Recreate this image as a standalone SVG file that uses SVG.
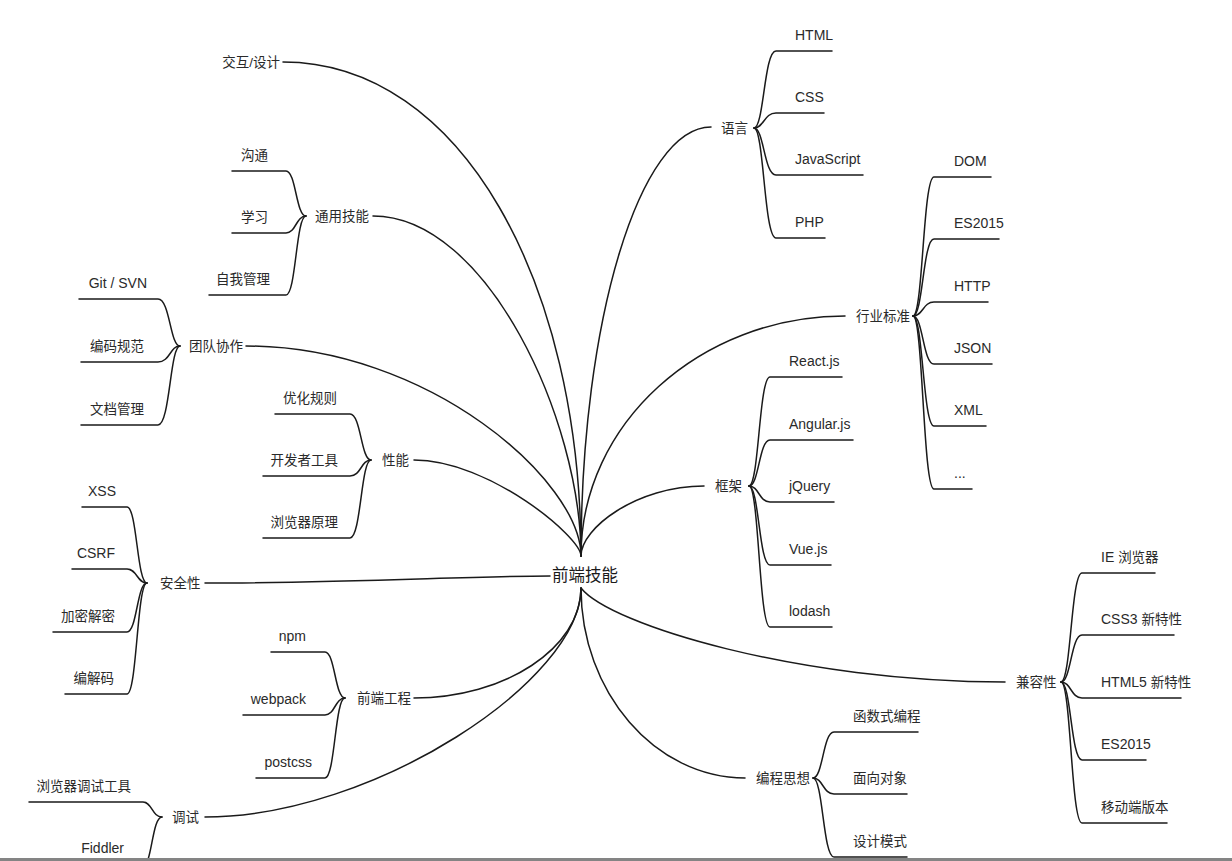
<svg xmlns="http://www.w3.org/2000/svg" width="1232" height="861" viewBox="0 0 1232 861">
<style>
.c{fill:none;stroke:#1a1a1a;stroke-width:1.5;stroke-linecap:round}
text{font-family:"Liberation Sans","Noto Sans CJK SC",sans-serif;font-size:13.5px;fill:#2a2a2a}
.en,.en tspan{font-size:14px}
.l{text-anchor:end}
.hub{font-size:16.5px;fill:#1a1a1a;text-anchor:middle}
</style>
<rect width="1232" height="861" fill="#ffffff"/>
<g id="connectors">
<path class="c" d="M283 62 C462 62 581 284 581 556"/>
<path class="c" d="M373 216 C487 216 581 420 581 556"/>
<path class="c" d="M246 346 C430 346 581 482 581 556"/>
<path class="c" d="M414 460 C489 460 581 537 581 556"/>
<path class="c" d="M205 583 C350 583 470 576 550 576"/>
<path class="c" d="M581 556 C581 320 640 127 711 127"/>
<path class="c" d="M581 556 C581 424 700 316 845 316"/>
<path class="c" d="M581 556 C581 528 637 486 704 486"/>
<path class="c" d="M581 588 C610 625 800 682 1005 682"/>
<path class="c" d="M581 588 C581 692 655 778 745 778"/>
<path class="c" d="M414 698 C505 698 581 648 581 588"/>
<path class="c" d="M205 817 C374 817 581 680 581 588"/>
<path class="c" d="M754 128 C764 128 764 51 776 51 H832"/>
<path class="c" d="M754 128 C764 128 764 113 776 113 H824"/>
<path class="c" d="M754 128 C764 128 764 175 776 175 H863"/>
<path class="c" d="M754 128 C764 128 764 238 776 238 H825"/>
<path class="c" d="M913 316 C923 316 923 177 934 177 H991"/>
<path class="c" d="M913 316 C923 316 923 239 934 239 H999"/>
<path class="c" d="M913 316 C923 316 923 302 934 302 H988"/>
<path class="c" d="M913 316 C923 316 923 364 934 364 H992"/>
<path class="c" d="M913 316 C923 316 923 426 934 426 H986"/>
<path class="c" d="M913 316 C923 316 923 489 934 489 H972"/>
<path class="c" d="M749 486 C759 486 759 377 770 377 H842"/>
<path class="c" d="M749 486 C759 486 759 440 770 440 H853"/>
<path class="c" d="M749 486 C759 486 759 502 770 502 H834"/>
<path class="c" d="M749 486 C759 486 759 565 770 565 H831"/>
<path class="c" d="M749 486 C759 486 759 627 770 627 H832"/>
<path class="c" d="M1061 682 C1071 682 1071 573 1082 573 H1155"/>
<path class="c" d="M1061 682 C1071 682 1071 635 1082 635 H1174"/>
<path class="c" d="M1061 682 C1071 682 1071 698 1082 698 H1181"/>
<path class="c" d="M1061 682 C1071 682 1071 760 1082 760 H1146"/>
<path class="c" d="M1061 682 C1071 682 1071 823 1082 823 H1167"/>
<path class="c" d="M813 778 C823 778 823 732 834 732 H918"/>
<path class="c" d="M813 778 C823 778 823 794 834 794 H907"/>
<path class="c" d="M813 778 C823 778 823 857 834 857 H907"/>
<path class="c" d="M306 216 C296 216 296 171 286 171 H232"/>
<path class="c" d="M306 216 C296 216 296 233 286 233 H232"/>
<path class="c" d="M306 216 C296 216 296 295 286 295 H209"/>
<path class="c" d="M180 346 C170 346 170 299 158 299 H79"/>
<path class="c" d="M180 346 C170 346 170 362 158 362 H81"/>
<path class="c" d="M180 346 C170 346 170 425 158 425 H81"/>
<path class="c" d="M371 460 C361 460 361 414 350 414 H275"/>
<path class="c" d="M371 460 C361 460 361 476 350 476 H263"/>
<path class="c" d="M371 460 C361 460 361 538 350 538 H263"/>
<path class="c" d="M147 583 C137 583 137 507 127 507 H82"/>
<path class="c" d="M147 583 C137 583 137 569 127 569 H72"/>
<path class="c" d="M147 583 C137 583 137 632 127 632 H53"/>
<path class="c" d="M147 583 C137 583 137 694 127 694 H65"/>
<path class="c" d="M345 698 C335 698 335 652 325 652 H271"/>
<path class="c" d="M345 698 C335 698 335 715 325 715 H243"/>
<path class="c" d="M345 698 C335 698 335 778 325 778 H256"/>
<path class="c" d="M162 817 C152 817 152 802 143 802 H29"/>
<path class="c" d="M162 817 C152 817 152 866 143 866 H70"/>
</g>
<g id="hub"><text class="hub" x="585" y="581">前端技能</text></g>
<g id="n-interaction"><text class="l" x="280" y="67">交互/设计</text></g>
<g id="n-general"><text x="315" y="221">通用技能</text>
<text class="l" x="268" y="159.5">沟通</text><text class="l" x="268" y="221.5">学习</text><text class="l" x="270" y="283.5">自我管理</text></g>
<g id="n-team"><text x="189" y="351">团队协作</text>
<text class="l en" x="147" y="287.5">Git / SVN</text><text class="l" x="144" y="350.5">编码规范</text><text class="l" x="144" y="413.5">文档管理</text></g>
<g id="n-perf"><text x="382" y="465">性能</text>
<text class="l" x="337" y="402.5">优化规则</text><text class="l" x="338" y="464.5">开发者工具</text><text class="l" x="338" y="526.5">浏览器原理</text></g>
<g id="n-security"><text x="160" y="588">安全性</text>
<text class="l en" x="116" y="495.5">XSS</text><text class="l en" x="115" y="557.5">CSRF</text><text class="l" x="115" y="620.5">加密解密</text><text class="l" x="114" y="682.5">编解码</text></g>
<g id="n-engineering"><text x="357" y="703">前端工程</text>
<text class="l en" x="306" y="640.5">npm</text><text class="l en" x="306" y="703.5">webpack</text><text class="l en" x="312" y="766.5">postcss</text></g>
<g id="n-debug"><text x="172" y="822">调试</text>
<text class="l" x="131" y="790.5">浏览器调试工具</text><text class="l en" x="124" y="853">Fiddler</text></g>
<g id="n-lang"><text x="721" y="133">语言</text>
<text class="en" x="795" y="39.5">HTML</text><text class="en" x="795" y="101.5">CSS</text><text class="en" x="795" y="163.5">JavaScript</text><text class="en" x="795" y="226.5">PHP</text></g>
<g id="n-standard"><text x="856" y="321">行业标准</text>
<text class="en" x="954" y="165.5">DOM</text><text class="en" x="954" y="227.5">ES2015</text><text class="en" x="954" y="290.5">HTTP</text><text class="en" x="954" y="352.5">JSON</text><text class="en" x="954" y="414.5">XML</text><text class="en" x="954" y="477.5">...</text></g>
<g id="n-framework"><text x="715" y="491">框架</text>
<text class="en" x="789" y="365.5">React.js</text><text class="en" x="789" y="428.5">Angular.js</text><text class="en" x="789" y="490.5">jQuery</text><text class="en" x="789" y="553.5">Vue.js</text><text class="en" x="789" y="615.5">lodash</text></g>
<g id="n-compat"><text x="1016" y="687">兼容性</text>
<text x="1101" y="561.5"><tspan class="en">IE </tspan>浏览器</text><text x="1101" y="623.5"><tspan class="en">CSS3 </tspan>新特性</text><text x="1101" y="686.5"><tspan class="en">HTML5 </tspan>新特性</text><text class="en" x="1101" y="748.5">ES2015</text><text x="1101" y="811.5">移动端版本</text></g>
<g id="n-programming"><text x="756" y="783">编程思想</text>
<text x="853" y="720.5">函数式编程</text><text x="853" y="782.5">面向对象</text><text x="853" y="845.5">设计模式</text></g>
<rect x="0" y="858" width="1232" height="3" fill="#848484"/>
</svg>
